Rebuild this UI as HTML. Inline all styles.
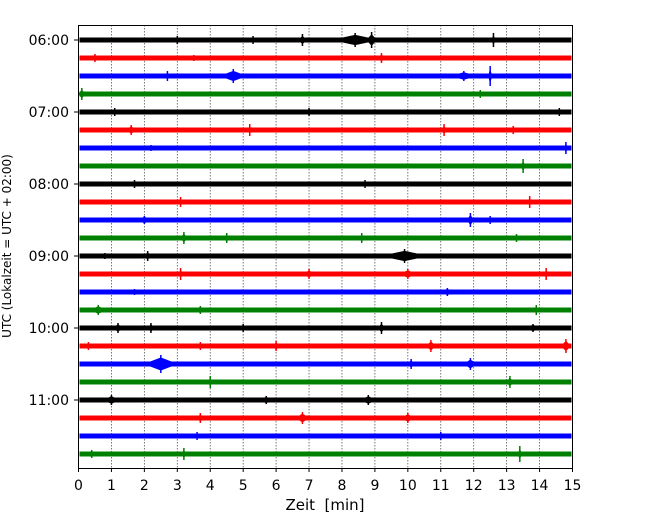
<!DOCTYPE html>
<html><head><meta charset="utf-8"><style>
body{margin:0;background:#fff}
svg text{font-family:"DejaVu Sans","Liberation Sans",sans-serif}
</style></head><body>
<svg id="chart" width="650" height="520" xmlns="http://www.w3.org/2000/svg">
<g id="grid"></g>
<g id="traces"></g>
<rect x="78.5" y="25.5" width="494" height="443" fill="none" stroke="#000" stroke-width="1"/>
<g id="xticks"></g>
<g id="yticks"></g>
<text x="325" y="510" font-size="15" text-anchor="middle">Zeit &#160;[min]</text>
<text transform="translate(11,246) rotate(-90)" font-size="12" text-anchor="middle">UTC (Lokalzeit = UTC + 02:00)</text>
</svg>
<script>
const xTicks=[0,1,2,3,4,5,6,7,8,9,10,11,12,13,14,15];
const yTickLabels=["06:00","07:00","08:00","09:00","10:00","11:00"];
const traceColors=["#000000","#ff0000","#0000ff","#008000"];
// events per trace: [time(min), amplitude, duration(min)]
const traceEvents=[
[[8.4,7,1.4],[8.9,8,0.3],[6.8,6,0.2],[12.6,7,0.1],[5.3,4,0.2],[3.0,4,0.2]],
[[0.5,4,0.3],[9.2,5,0.2],[3.5,3,0.3]],
[[4.7,7,0.8],[11.7,5,0.8],[12.5,10,0.1],[2.7,5,0.1]],
[[0.1,6,0.2],[12.2,4,0.1]],
[[1.1,4,0.3],[7.0,4,0.3],[14.6,4,0.2]],
[[1.6,5,0.3],[5.2,6,0.1],[11.1,6,0.1],[13.2,4,0.3]],
[[14.8,6,0.1],[2.2,3,0.2]],
[[13.5,7,0.1]],
[[1.7,4,0.3],[8.7,4,0.2]],
[[3.1,5,0.1],[13.7,6,0.1]],
[[2.0,4,0.6],[11.9,7,0.2],[12.5,4,0.2]],
[[3.2,6,0.2],[4.5,5,0.1],[8.6,5,0.1],[13.3,4,0.1]],
[[9.9,7,1.4],[2.1,5,0.2],[0.8,3,0.2]],
[[3.1,6,0.1],[7.0,5,0.3],[14.2,6,0.1],[10.0,5,0.5]],
[[11.2,4,0.5],[1.7,3,0.2]],
[[0.6,5,0.5],[3.7,4,0.4],[13.9,5,0.1]],
[[1.2,5,0.3],[2.2,5,0.2],[5.0,4,0.3],[9.2,6,0.2],[13.8,4,0.6]],
[[0.3,4,0.2],[3.7,4,0.1],[6.0,5,0.2],[10.7,6,0.3],[14.8,7,0.3]],
[[2.5,9,1.0],[10.1,5,0.2],[11.9,6,0.4]],
[[4.0,6,0.1],[13.1,6,0.2]],
[[1.0,5,0.5],[5.7,4,0.5],[8.8,5,0.5]],
[[3.7,5,0.2],[6.8,6,0.4],[10.0,5,0.4]],
[[3.6,4,0.2],[11.0,4,0.3]],
[[0.4,4,0.4],[3.2,6,0.1],[13.4,8,0.1]]
];
const NS="http://www.w3.org/2000/svg";
const X0=78.5,X1=572.5,Y0=40,DY=18;
const xs=t=>X0+(t/15)*(X1-X0);
const ys=i=>Y0+i*DY;
function mk(tag,attrs,parent){const e=document.createElementNS(NS,tag);for(const k in attrs)e.setAttribute(k,attrs[k]);parent.appendChild(e);return e;}
const grid=document.getElementById('grid'),tr=document.getElementById('traces'),xt=document.getElementById('xticks'),yt=document.getElementById('yticks');
xTicks.forEach(t=>{
  if(t>0&&t<15){const l=mk('line',{x1:xs(t),x2:xs(t),y1:25,y2:468,stroke:'#555','stroke-width':0.8,'stroke-dasharray':'1.5,1.5'},grid);
  
  }
  const tk=mk('line',{x1:xs(t),x2:xs(t),y1:468,y2:472,stroke:'#000'},xt);
  
  
  const tx=mk('text',{x:xs(t),y:490,'font-size':14,'text-anchor':'middle'},xt);tx.textContent=t;
  
  
});
yTickLabels.forEach((lab,k)=>{
  const y=ys(k*4);
  const tk=mk('line',{x1:74,x2:78,y1:y,y2:y,stroke:'#000'},yt);
  
  
  const tx=mk('text',{x:69,y:y+5,'font-size':14,'text-anchor':'end'},yt);tx.textContent=lab;
  
  
});
traceEvents.forEach((evs,i)=>{
  const c=traceColors[i%4],y=ys(i);
  const g=mk('g',{fill:c,stroke:c},tr);
  
  
  const b=mk('rect',{x:X0+1,y:y-2.5,width:X1-X0-2,height:5,stroke:'none'},g);
  
  
  evs.forEach(([t,a,d])=>{
    const x=xs(t),w=Math.max(3,xs(d)-X0)/2,h=a*0.7;
    const p=mk('polygon',{points:`${x-w},${y} ${x},${y-h} ${x+w},${y} ${x},${y+h}`,'stroke-width':0.5},g);
    
    
    const l=mk('line',{x1:x,x2:x,y1:y-a,y2:y+a,'stroke-width':1.5},g);
    
    
  });
});
</script>
</body></html>
